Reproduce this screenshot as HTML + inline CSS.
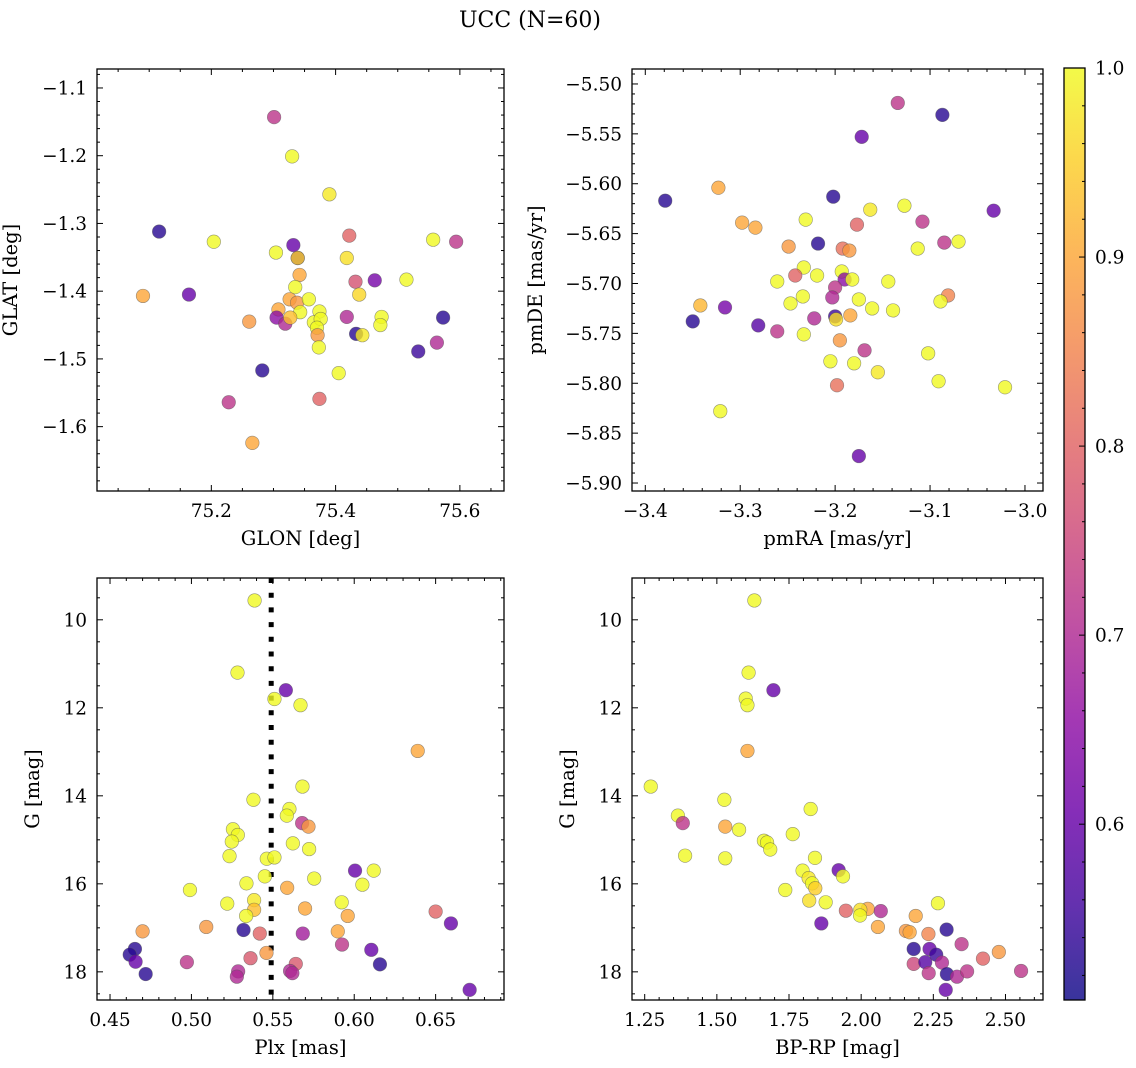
<!DOCTYPE html>
<html><head><meta charset="utf-8">
<style>
html,body{margin:0;padding:0;background:#fff;}
svg{display:block;font-family:"DejaVu Serif","Liberation Serif",serif;}
</style></head>
<body>
<svg id="fig" width="1136" height="1068" viewBox="0 0 1136 1068" xmlns="http://www.w3.org/2000/svg">
<rect x="0" y="0" width="1136" height="1068" fill="#fff"/>
<text x="530" y="27" font-size="22" text-anchor="middle">UCC (N=60)</text>
</svg>
<script>
// ---- data (probability colours c) ----
const glon=[75.301,75.330,75.390,75.116,75.204,75.304,75.332,75.339,75.339,75.342,75.422,75.418,75.557,75.594,75.090,75.164,75.432,75.463,75.514,75.335,75.438,75.326,75.338,75.357,75.308,75.343,75.374,75.305,75.319,75.327,75.365,75.376,75.370,75.371,75.373,75.261,75.418,75.433,75.443,75.474,75.472,75.573,75.563,75.533,75.282,75.405,75.228,75.374,75.266];
const glat=[-1.143,-1.201,-1.257,-1.312,-1.327,-1.343,-1.332,-1.351,-1.351,-1.376,-1.318,-1.351,-1.324,-1.327,-1.407,-1.405,-1.386,-1.384,-1.383,-1.394,-1.405,-1.412,-1.417,-1.412,-1.427,-1.431,-1.430,-1.439,-1.448,-1.439,-1.446,-1.441,-1.454,-1.465,-1.483,-1.445,-1.438,-1.463,-1.465,-1.438,-1.450,-1.439,-1.476,-1.489,-1.517,-1.521,-1.564,-1.559,-1.624];
const probPos=[0.72,1.0,0.98,0.53,1.0,1.0,0.6,0.55,0.95,0.9,0.8,0.97,1.0,0.72,0.9,0.6,0.77,0.62,1.0,1.0,0.96,0.9,0.88,1.0,0.9,1.0,1.0,0.65,0.7,0.93,1.0,1.0,1.0,0.88,1.0,0.88,0.7,0.53,0.98,1.0,1.0,0.53,0.7,0.55,0.53,1.0,0.72,0.8,0.9];

const pmra=[-3.134,-3.087,-3.172,-3.379,-3.323,-3.202,-3.163,-3.127,-3.033,-3.298,-3.284,-3.231,-3.177,-3.108,-3.249,-3.218,-3.192,-3.185,-3.113,-3.085,-3.070,-3.233,-3.242,-3.219,-3.261,-3.193,-3.190,-3.182,-3.144,-3.200,-3.203,-3.234,-3.247,-3.175,-3.161,-3.139,-3.081,-3.089,-3.342,-3.316,-3.350,-3.281,-3.261,-3.222,-3.200,-3.199,-3.184,-3.233,-3.195,-3.169,-3.205,-3.180,-3.155,-3.102,-3.091,-3.021,-3.198,-3.321,-3.175];
const pmde=[-5.519,-5.531,-5.553,-5.617,-5.604,-5.613,-5.626,-5.622,-5.627,-5.639,-5.644,-5.636,-5.641,-5.638,-5.663,-5.660,-5.665,-5.667,-5.665,-5.659,-5.658,-5.684,-5.692,-5.692,-5.698,-5.688,-5.696,-5.696,-5.698,-5.704,-5.714,-5.713,-5.720,-5.716,-5.725,-5.727,-5.712,-5.718,-5.722,-5.724,-5.738,-5.742,-5.748,-5.735,-5.733,-5.736,-5.732,-5.751,-5.757,-5.767,-5.778,-5.780,-5.789,-5.770,-5.798,-5.804,-5.802,-5.828,-5.873];
const probPm=[0.72,0.53,0.6,0.53,0.9,0.53,0.98,1.0,0.6,0.9,0.9,1.0,0.8,0.72,0.88,0.53,0.82,0.88,1.0,0.72,1.0,1.0,0.8,1.0,1.0,1.0,0.65,1.0,1.0,0.72,0.7,1.0,1.0,1.0,1.0,1.0,0.85,1.0,0.92,0.62,0.53,0.58,0.72,0.7,0.55,0.97,0.9,1.0,0.88,0.72,1.0,1.0,0.98,1.0,1.0,1.0,0.82,1.0,0.6];

const plx=[0.5388,0.5283,0.5580,0.5510,0.5670,0.6390,0.5682,0.5381,0.5602,0.5586,0.5680,0.5719,0.5255,0.5285,0.5248,0.5623,0.5723,0.5234,0.5463,0.5510,0.6005,0.6120,0.5451,0.5754,0.6050,0.5338,0.5588,0.4991,0.5220,0.5385,0.5385,0.5336,0.5698,0.5923,0.5960,0.6500,0.6594,0.4700,0.5091,0.5320,0.5420,0.5684,0.5899,0.5925,0.6105,0.4653,0.4621,0.4657,0.4719,0.4972,0.5363,0.5461,0.5641,0.5287,0.5279,0.5606,0.5620,0.6158,0.6709];
const gPlx=[9.56,11.20,11.60,11.80,11.94,12.98,13.79,14.09,14.30,14.45,14.62,14.70,14.76,14.89,15.04,15.08,15.21,15.37,15.43,15.40,15.70,15.70,15.83,15.88,16.02,15.99,16.09,16.14,16.45,16.37,16.59,16.73,16.56,16.42,16.73,16.63,16.90,17.08,16.98,17.05,17.13,17.13,17.08,17.38,17.50,17.48,17.61,17.77,18.05,17.78,17.69,17.57,17.82,17.99,18.11,17.98,18.03,17.83,18.41];
const probPlx=[1.0,1.0,0.6,1.0,1.0,0.9,1.0,1.0,1.0,1.0,0.72,0.88,1.0,1.0,1.0,1.0,1.0,1.0,1.0,1.0,0.6,1.0,1.0,1.0,1.0,1.0,0.9,1.0,1.0,0.98,0.93,1.0,0.9,1.0,0.9,0.8,0.6,0.88,0.88,0.53,0.8,0.68,0.9,0.72,0.6,0.53,0.53,0.6,0.53,0.72,0.78,0.88,0.78,0.7,0.7,0.7,0.7,0.53,0.6];

const bprp=[1.630,1.610,1.696,1.600,1.606,1.606,1.271,1.526,1.825,1.365,1.382,1.529,1.577,1.763,1.663,1.674,1.685,1.390,1.529,1.840,1.797,1.922,1.937,1.818,1.830,1.841,1.737,1.820,1.877,2.266,1.947,2.023,1.997,1.996,2.068,2.189,1.862,2.058,2.155,2.168,2.233,2.296,2.348,2.182,2.237,2.260,2.182,2.222,2.280,2.234,2.297,2.332,2.367,2.422,2.477,2.554,2.293];
const gCmd=[9.56,11.20,11.60,11.79,11.94,12.98,13.79,14.09,14.30,14.45,14.62,14.70,14.77,14.87,15.02,15.06,15.22,15.36,15.42,15.41,15.70,15.69,15.83,15.87,15.99,16.10,16.14,16.38,16.42,16.44,16.61,16.57,16.59,16.72,16.62,16.73,16.90,16.98,17.07,17.10,17.14,17.04,17.37,17.48,17.48,17.61,17.82,17.78,17.79,18.03,18.05,18.11,17.99,17.70,17.55,17.98,18.41];
const probCmd=[1.0,1.0,0.6,1.0,1.0,0.9,1.0,1.0,1.0,1.0,0.72,0.9,1.0,1.0,1.0,1.0,1.0,1.0,1.0,1.0,1.0,0.6,1.0,0.98,1.0,0.95,1.0,0.97,1.0,1.0,0.8,0.9,0.97,1.0,0.7,0.9,0.6,0.9,0.88,0.9,0.85,0.53,0.72,0.53,0.6,0.55,0.75,0.58,0.7,0.72,0.53,0.7,0.72,0.8,0.88,0.72,0.6];

const plxLine=0.549;
const cbTicks=[0.6,0.7,0.8,0.9,1.0];
const vmin=0.507, vmax=1.0;

const NS='http://www.w3.org/2000/svg';
const fig=document.getElementById('fig');
const plasma=[[13,8,135],[65,4,157],[106,0,168],[143,13,164],[177,42,144],[204,71,120],[225,100,98],[242,132,75],[252,166,54],[252,206,37],[240,249,33]];
function cmap(v){let t=(v-vmin)/(vmax-vmin);t=Math.max(0,Math.min(1,t))*10;const i=Math.min(9,Math.floor(t)),f=t-i;const a=plasma[i],b=plasma[i+1];return 'rgb('+a.map((x,k)=>Math.round(x+(b[k]-x)*f)).join(',')+')';}
function mk(tag,attrs,parent){const el=document.createElementNS(NS,tag);for(const k in attrs)el.setAttribute(k,attrs[k]);(parent||fig).appendChild(el);return el;}

const TICKFS=18.5, LABFS=19.5;
function panel(cfg){
  const g=mk('g',{});
  
  
  const {x0,x1,y0,y1,xmin,xmax,ymin,ymax}=cfg;
  const sx=v=>x0+(v-xmin)/(xmax-xmin)*(x1-x0);
  const sy=v=>cfg.yinv? y0+(v-ymin)/(ymax-ymin)*(y1-y0) : y1-(v-ymin)/(ymax-ymin)*(y1-y0);
  const eps=1e-9;
  for(let v=Math.ceil(xmin/cfg.xminor-eps)*cfg.xminor; v<=xmax+eps; v+=cfg.xminor){
    const X=sx(v);const major=Math.abs(v/cfg.xmajor-Math.round(v/cfg.xmajor))<1e-6;const L=major?6:3;
    mk('line',{x1:X,x2:X,y1:y1,y2:y1-L,stroke:'#000','stroke-width':1},g);
    mk('line',{x1:X,x2:X,y1:y0,y2:y0+L,stroke:'#000','stroke-width':1},g);
  }
  cfg.xlabels.forEach(v=>{const t=mk('text',{x:sx(v),y:y1+26,'font-size':TICKFS,'text-anchor':'middle'},g);t.textContent=cfg.xfmt(v);
    
    });
  const ylo=Math.min(ymin,ymax),yhi=Math.max(ymin,ymax);
  for(let v=Math.ceil(ylo/cfg.yminor-eps)*cfg.yminor; v<=yhi+eps; v+=cfg.yminor){
    const Y=sy(v);const major=Math.abs(v/cfg.ymajor-Math.round(v/cfg.ymajor))<1e-6;const L=major?6:3;
    mk('line',{x1:x0,x2:x0+L,y1:Y,y2:Y,stroke:'#000','stroke-width':1},g);
    mk('line',{x1:x1,x2:x1-L,y1:Y,y2:Y,stroke:'#000','stroke-width':1},g);
  }
  cfg.ylabels.forEach(v=>{const t=mk('text',{x:x0-10,y:sy(v)+6.5,'font-size':TICKFS,'text-anchor':'end'},g);t.textContent=cfg.yfmt(v);
    
    });
  const xl=mk('text',{x:(x0+x1)/2,y:y1+54,'font-size':LABFS,'text-anchor':'middle'},g);xl.textContent=cfg.xtitle;
  
  
  const yx=x0-cfg.ytoff, yy=(y0+y1)/2;
  const yl=mk('text',{x:yx,y:yy,'font-size':LABFS,'text-anchor':'middle',transform:'rotate(-90 '+yx+' '+yy+')'},g);yl.textContent=cfg.ytitle;
  
  
  if(cfg.vline!==undefined){
    const l=mk('line',{x1:sx(cfg.vline),x2:sx(cfg.vline),y1:y0,y2:y1,stroke:'#000','stroke-width':5,'stroke-dasharray':'5 9.7'},g);
    
    
  }
  for(let i=0;i<cfg.xs.length;i++){
    const c=mk('circle',{cx:sx(cfg.xs[i]),cy:sy(cfg.ys[i]),r:6.8,fill:cmap(cfg.cs[i]),'fill-opacity':0.8,stroke:'#555','stroke-opacity':0.6,'stroke-width':0.6},g);
    
    
  }
  const fr=mk('rect',{x:x0,y:y0,width:x1-x0,height:y1-y0,fill:'none',stroke:'#000','stroke-width':1.3},g);
  
  
}
const f1=v=>(v<0?'\u2212':'')+Math.abs(v).toFixed(1);
const f2=v=>(v<0?'\u2212':'')+Math.abs(v).toFixed(2);
panel({name:'glon-glat-panel',x0:97,x1:504,y0:69,y1:491,xmin:75.016,xmax:75.671,ymin:-1.695,ymax:-1.072,xminor:0.05,xmajor:0.2,yminor:0.02,ymajor:0.1,
  xlabels:[75.2,75.4,75.6],ylabels:[-1.1,-1.2,-1.3,-1.4,-1.5,-1.6],xfmt:v=>v.toFixed(1),yfmt:f1,xtitle:'GLON [deg]',ytitle:'GLAT [deg]',ytoff:80,xs:glon,ys:glat,cs:probPos});
panel({name:'pm-panel',x0:632,x1:1043,y0:69,y1:491,xmin:-3.414,xmax:-2.981,ymin:-5.908,ymax:-5.485,xminor:0.02,xmajor:0.1,yminor:0.01,ymajor:0.05,
  xlabels:[-3.4,-3.3,-3.2,-3.1,-3.0],ylabels:[-5.5,-5.55,-5.6,-5.65,-5.7,-5.75,-5.8,-5.85,-5.9],xfmt:f1,yfmt:f2,xtitle:'pmRA [mas/yr]',ytitle:'pmDE [mas/yr]',ytoff:90,xs:pmra,ys:pmde,cs:probPm});
panel({name:'plx-g-panel',x0:97,x1:504,y0:578,y1:1000,xmin:0.442,xmax:0.692,ymin:9.05,ymax:18.64,yinv:true,xminor:0.01,xmajor:0.05,yminor:0.5,ymajor:2,
  xlabels:[0.45,0.5,0.55,0.6,0.65],ylabels:[10,12,14,16,18],xfmt:v=>v.toFixed(2),yfmt:v=>String(v),xtitle:'Plx [mas]',ytitle:'G [mag]',ytoff:58,xs:plx,ys:gPlx,cs:probPlx,vline:plxLine});
panel({name:'cmd-panel',x0:632,x1:1043,y0:578,y1:1000,xmin:1.206,xmax:2.630,ymin:9.05,ymax:18.64,yinv:true,xminor:0.05,xmajor:0.25,yminor:0.5,ymajor:2,
  xlabels:[1.25,1.5,1.75,2.0,2.25,2.5],ylabels:[10,12,14,16,18],xfmt:v=>v.toFixed(2),yfmt:v=>String(v),xtitle:'BP-RP [mag]',ytitle:'G [mag]',ytoff:58,xs:bprp,ys:gCmd,cs:probCmd});

// colorbar
const cb=mk('g',{});


const cx0=1064,cx1=1085,cy0=68,cy1=1000;
const defs=mk('defs',{},cb);
const grad=mk('linearGradient',{id:'cbg',x1:0,y1:1,x2:0,y2:0},defs);
for(let k=0;k<=10;k++){mk('stop',{offset:k/10,'stop-color':'rgb('+plasma[k].join(',')+')'},grad);}
const cr=mk('rect',{x:cx0,y:cy0,width:cx1-cx0,height:cy1-cy0,fill:'url(#cbg)','fill-opacity':0.82},cb);


const cyv=v=>cy1-(v-vmin)/(vmax-vmin)*(cy1-cy0);
for(let v=0.52;v<=1.0001;v+=0.02){const Y=cyv(v);const major=Math.abs(v*10-Math.round(v*10))<1e-6;
  mk('line',{x1:cx1,x2:cx1-(major?6:3),y1:Y,y2:Y,stroke:'#000','stroke-width':1},cb);}
cbTicks.forEach(v=>{const t=mk('text',{x:1095,y:cyv(v)+6.5,'font-size':TICKFS},cb);t.textContent=v.toFixed(1);
  
  });
mk('rect',{x:cx0,y:cy0,width:cx1-cx0,height:cy1-cy0,fill:'none',stroke:'#000','stroke-width':1.3},cb);
</script>
</body></html>
